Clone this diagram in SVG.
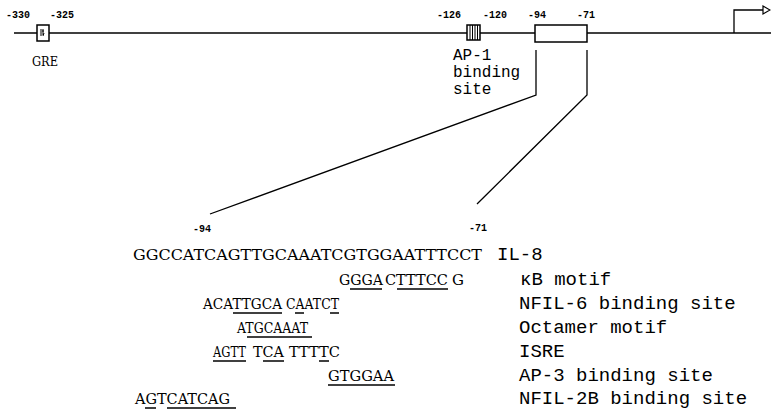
<svg xmlns="http://www.w3.org/2000/svg" width="771" height="416" viewBox="0 0 771 416">
<style>
.ln{stroke:#000;stroke-width:1.3;fill:none}
.box{fill:#fff;stroke:#000;stroke-width:1.5}
.pos{font-family:"Liberation Mono",monospace;font-size:10px;font-weight:bold;fill:#000}
.lab{font-family:"Liberation Mono",monospace;font-size:16px;fill:#000}
.rl{font-family:"Liberation Mono",monospace;font-size:19px;fill:#000}
.seq{font-family:"DejaVu Serif","Liberation Serif",serif;font-size:15px;fill:#000}
.ul{stroke:#000;stroke-width:1.5}
</style>
<rect width="771" height="416" fill="#fff"/>
<g id="map">
<line class="ln" x1="14" y1="33" x2="771" y2="33"/>
</g>
<g id="gre">
<rect class="box" x="37" y="25" width="12" height="16"/>
<path d="M41 29v7M43 29v6M42 31h2M44 33l-1 3" stroke="#000" stroke-width="1" fill="none"/>
<text class="pos" x="6" y="18">-330</text>
<text class="pos" x="50" y="18">-325</text>
<text x="32" y="66" font-family="DejaVu Serif,serif" font-size="13" textLength="26" lengthAdjust="spacingAndGlyphs">GRE</text>
</g>
<g id="ap1">
<rect class="box" x="467" y="25" width="13" height="15"/>
<path d="M470 25v15M472.5 25v15M475 25v15M477.5 25v15" stroke="#000" stroke-width="1"/>
<text class="pos" x="437" y="18">-126</text>
<text class="pos" x="483" y="18">-120</text>
<text class="lab" x="453" y="60">AP-1</text>
<text class="lab" x="453" y="77">binding</text>
<text class="lab" x="453" y="94">site</text>
</g>
<g id="region">
<rect class="box" x="535" y="25" width="52" height="17"/>
<text class="pos" x="528" y="18">-94</text>
<text class="pos" x="577" y="18">-71</text>
</g>
<g id="promoter">
<polyline class="ln" points="734,33 734,10 763,10"/>
<polygon points="763,6 770,10 763,14" fill="#fff" stroke="#000" stroke-width="1.2"/>
</g>
<g id="connectors">
<polyline class="ln" points="536,50 536,95 210,214"/>
<polyline class="ln" points="587,50 587,95 477,204"/>
</g>
<g id="sequence">
<text class="pos" x="193" y="232" font-size="9">-94</text>
<text class="pos" x="469" y="231" font-size="9">-71</text>
<text class="seq" x="133" y="260" textLength="349" lengthAdjust="spacingAndGlyphs">GGCCATCAGTTGCAAATCGTGGAATTTCCT</text>
<text class="rl" x="497" y="260">IL-8</text>
</g>
<g id="kb">
<text class="seq" x="339" y="285" textLength="44" lengthAdjust="spacingAndGlyphs">GGGA</text>
<text class="seq" x="385" y="285" textLength="63" lengthAdjust="spacingAndGlyphs">CTTTCC</text>
<text class="seq" x="452" y="285">G</text>
<line class="ul" x1="350" y1="289" x2="382" y2="289"/>
<line class="ul" x1="397" y1="289" x2="448" y2="289"/>
<text class="rl" x="520" y="285">κB motif</text>
</g>
<g id="nfil6">
<text class="seq" x="203" y="309" textLength="79" lengthAdjust="spacingAndGlyphs">ACATTGCA</text>
<text class="seq" x="286" y="309" textLength="53" lengthAdjust="spacingAndGlyphs">CAATCT</text>
<line class="ul" x1="233" y1="313" x2="282" y2="313"/>
<line class="ul" x1="295" y1="313" x2="304" y2="313"/>
<line class="ul" x1="330" y1="313" x2="339" y2="313"/>
<text class="rl" x="519" y="309">NFIL-6 binding site</text>
</g>
<g id="octamer">
<text class="seq" x="237" y="333" textLength="71" lengthAdjust="spacingAndGlyphs">ATGCAAAT</text>
<line class="ul" x1="247" y1="337" x2="312" y2="337"/>
<text class="rl" x="519" y="333">Octamer motif</text>
</g>
<g id="isre">
<text class="seq" x="213" y="357" textLength="33" lengthAdjust="spacingAndGlyphs">AGTT</text>
<text class="seq" x="253" y="357" textLength="31" lengthAdjust="spacingAndGlyphs">TCA</text>
<text class="seq" x="289" y="357" textLength="51" lengthAdjust="spacingAndGlyphs">TTTTC</text>
<line class="ul" x1="213" y1="361" x2="246" y2="361"/>
<line class="ul" x1="263" y1="361" x2="284" y2="361"/>
<line class="ul" x1="319" y1="361" x2="329" y2="361"/>
<text class="rl" x="519" y="357">ISRE</text>
</g>
<g id="ap3">
<text class="seq" x="328" y="381" textLength="66" lengthAdjust="spacingAndGlyphs">GTGGAA</text>
<line class="ul" x1="328" y1="385" x2="395" y2="385"/>
<text class="rl" x="519" y="381">AP-3 binding site</text>
</g>
<g id="nfil2b">
<text class="seq" x="135" y="404" textLength="95" lengthAdjust="spacingAndGlyphs">AGTCATCAG</text>
<line class="ul" x1="145" y1="408" x2="156" y2="408"/>
<line class="ul" x1="167" y1="408" x2="236" y2="408"/>
<text class="rl" x="519" y="404">NFIL-2B binding site</text>
</g>
</svg>
